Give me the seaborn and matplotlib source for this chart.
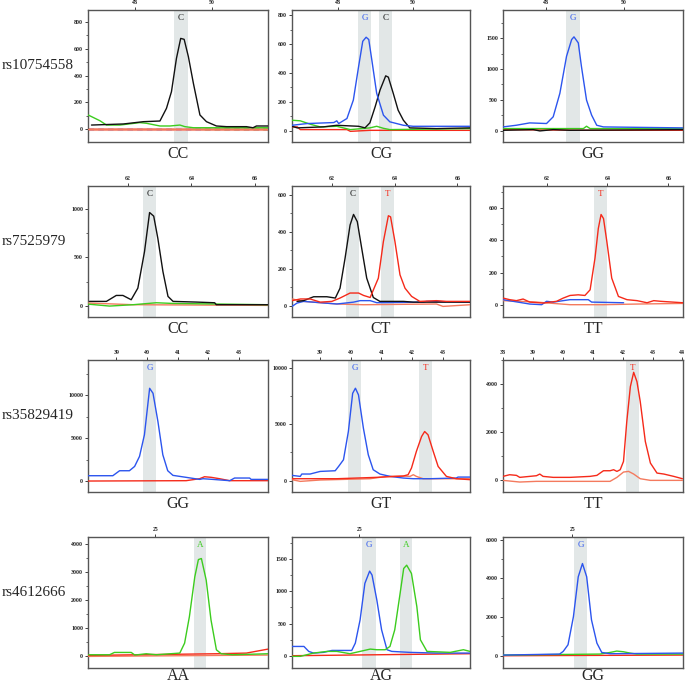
import matplotlib
matplotlib.use("Agg")
import matplotlib.pyplot as plt
from matplotlib.ticker import AutoMinorLocator
import seaborn as sns

sns.set_theme(style="white")
plt.rcParams["font.family"] = ["Liberation Serif", "DejaVu Serif"]

# ---- data (x = base position, y = signal) ----
snps = ["rs10754558", "rs7525979", "rs35829419", "rs4612666"]
genotypes = [["CC", "CG", "GG"], ["CC", "CT", "TT"], ["GG", "GT", "TT"], ["AA", "AG", "GG"]]

# row 1 : rs10754558
p11_C_x = [46.87, 47.70, 48.22, 48.65, 48.82, 48.95, 49.08, 49.19, 49.28, 49.39, 49.52, 49.69, 49.86, 50.12, 50.38, 50.90, 51.07, 51.16, 51.46]
p11_C_y = [32, 40, 57, 62, 156, 280, 528, 676, 669, 540, 342, 107, 57, 25, 20, 20, 12, 25, 25]
p11_A_x = [46.79, 47.09, 47.26, 47.61, 48.13, 48.30, 48.65, 48.91, 49.17, 49.30, 49.52, 51.46]
p11_A_y = [106, 64, 32, 32, 50, 45, 25, 25, 32, 20, 12, 12]
p11_T_x = [46.78, 51.46]
p11_T_y = [2, 2]

p12_G_x = [46.78, 47.18, 47.89, 47.97, 48.02, 48.24, 48.41, 48.55, 48.66, 48.75, 48.82, 48.90, 49.03, 49.21, 49.38, 49.74, 50.00, 51.51]
p12_G_y = [37, 49, 56, 68, 49, 84, 212, 445, 620, 648, 632, 492, 259, 107, 61, 37, 30, 30]
p12_C_x = [46.78, 46.92, 47.62, 47.97, 48.55, 48.72, 48.85, 48.99, 49.12, 49.27, 49.34, 49.47, 49.60, 49.74, 49.91, 50.62, 51.51]
p12_C_y = [30, 19, 26, 37, 30, 19, 54, 166, 282, 380, 371, 259, 142, 72, 19, 14, 19]
p12_A_x = [46.78, 47.00, 47.27, 47.53, 47.97, 48.33, 48.85, 49.03, 49.21, 49.38, 51.51]
p12_A_y = [72, 68, 44, 26, 30, 7, 19, 30, 16, 7, 14]
p12_T_x = [46.78, 46.92, 47.00, 48.24, 48.33, 48.85, 51.51]
p12_T_y = [26, 26, 7, 7, -5, 2, 2]

p13_G_x = [46.91, 47.25, 47.59, 48.02, 48.19, 48.36, 48.53, 48.66, 48.72, 48.83, 48.91, 49.04, 49.17, 49.30, 49.47, 51.50]
p13_G_y = [60, 87, 125, 115, 224, 605, 1206, 1478, 1522, 1424, 1042, 496, 251, 87, 60, 44]
p13_C_x = [46.91, 47.68, 47.85, 48.19, 48.62, 51.50]
p13_C_y = [5, 16, -5, 16, 5, 16]
p13_A_x = [46.91, 47.76, 48.96, 49.04, 49.13, 51.50]
p13_A_y = [33, 33, 33, 71, 33, 33]
p13_T_x = [46.91, 49.04, 51.50]
p13_T_y = [16, 5, 5]

# row 2 : rs7525979
p21_C_x = [60.79, 61.32, 61.63, 61.84, 62.10, 62.31, 62.52, 62.68, 62.81, 62.94, 63.10, 63.26, 63.42, 64.15, 64.73, 64.78, 66.41]
p21_C_y = [48, 48, 109, 109, 65, 184, 558, 959, 922, 694, 354, 99, 48, 41, 34, 14, 14]
p21_A_x = [60.74, 61.42, 62.16, 62.89, 63.42, 66.41]
p21_A_y = [20, 0, 14, 34, 27, 14]
p21_T_x = [60.74, 62.16, 66.41]
p21_T_y = [31, 14, 7]

p22_C_x = [60.89, 61.10, 61.42, 61.84, 62.11, 62.26, 62.42, 62.58, 62.69, 62.81, 62.95, 63.11, 63.32, 63.53, 64.28, 64.59, 66.40]
p22_C_y = [25, 29, 50, 50, 43, 96, 257, 436, 493, 454, 311, 150, 46, 25, 25, 21, 21]
p22_T_x = [60.73, 61.00, 61.31, 61.63, 62.00, 62.26, 62.58, 62.85, 63.01, 63.22, 63.48, 63.64, 63.80, 63.87, 64.01, 64.17, 64.33, 64.54, 64.80, 65.33, 65.65, 66.40]
p22_T_y = [29, 38, 38, 21, 25, 43, 70, 70, 57, 46, 150, 346, 486, 480, 346, 168, 96, 52, 25, 29, 25, 25]
p22_T2_x = [60.73, 61.10, 62.16, 63.01, 65.33, 65.54, 66.40]
p22_T2_y = [38, 25, 11, 7, 11, -2, 7]
p22_G_x = [60.73, 60.89, 61.10, 62.16, 62.69, 62.90, 63.22, 63.43, 64.91, 65.02, 66.40]
p22_G_y = [-2, 16, 25, 11, 21, 29, 29, 18, 21, 25, 21]

p23_T_x = [60.57, 60.79, 61.01, 61.23, 61.45, 61.89, 62.33, 62.55, 62.77, 63.04, 63.26, 63.43, 63.59, 63.70, 63.79, 63.87, 63.98, 64.14, 64.36, 64.64, 64.97, 65.30, 65.52, 65.74, 66.48]
p23_T_y = [43, 33, 27, 37, 18, 12, 23, 43, 59, 63, 59, 94, 289, 473, 559, 534, 391, 166, 53, 33, 27, 14, 27, 23, 14]
p23_T2_x = [60.57, 61.67, 62.77, 63.87, 64.97, 66.48]
p23_T2_y = [27, 18, 2, 2, 6, 10]
p23_G_x = [60.57, 61.45, 61.84, 62.00, 62.22, 62.55, 62.77, 63.10, 63.37, 63.48, 64.53]
p23_G_y = [33, 6, 2, 23, 18, 27, 33, 33, 33, 18, 14]

# row 3 : rs35829419
p31_G_x = [38.08, 38.89, 39.11, 39.43, 39.60, 39.76, 39.92, 40.09, 40.20, 40.36, 40.52, 40.68, 40.85, 41.28, 41.72, 41.83, 42.15, 42.70, 42.86, 43.35, 43.40, 43.95]
p31_G_y = [620, 620, 1200, 1200, 1700, 2870, 5390, 10810, 10230, 6940, 3060, 1200, 660, 430, 190, 270, 190, 40, 350, 350, 190, 190]
p31_T_x = [38.08, 41.28, 41.72, 41.88, 42.10, 42.37, 42.70, 43.95]
p31_T_y = [0, 40, 270, 500, 430, 270, 40, 40]

p32_G_x = [38.08, 38.35, 38.40, 38.67, 39.00, 39.49, 39.60, 39.76, 39.92, 40.06, 40.15, 40.25, 40.41, 40.57, 40.73, 40.95, 41.28, 41.71, 42.04, 42.58, 43.44, 43.50, 43.89]
p32_G_y = [470, 380, 590, 590, 820, 880, 1260, 1850, 4350, 7730, 8180, 7590, 4650, 2290, 970, 590, 380, 235, 175, 175, 235, 320, 320]
p32_T_x = [38.08, 39.54, 40.84, 41.71, 41.87, 41.98, 42.14, 42.31, 42.41, 42.52, 42.69, 42.85, 43.12, 43.44, 43.89]
p32_T_y = [175, 175, 295, 410, 530, 1120, 2590, 3910, 4350, 4060, 2590, 1260, 380, 175, 90]
p32_T2_x = [38.08, 38.35, 39.00, 40.63, 41.17, 41.71, 41.93, 42.04, 42.14, 42.36, 43.89]
p32_T2_y = [90, -60, 60, 175, 380, 410, 380, 530, 380, 175, 175]

p33_T_x = [38.00, 38.22, 38.45, 38.56, 39.12, 39.23, 39.34, 39.68, 40.24, 40.91, 41.14, 41.36, 41.58, 41.70, 41.81, 41.92, 42.03, 42.14, 42.26, 42.37, 42.48, 42.59, 42.76, 42.93, 43.15, 43.38, 43.71, 44.00]
p33_T_y = [166, 235, 208, 125, 194, 263, 166, 125, 125, 166, 208, 401, 401, 443, 374, 443, 789, 2450, 3903, 4498, 4110, 3280, 1619, 720, 304, 263, 166, 69]
p33_T2_x = [38.00, 38.56, 39.12, 40.24, 41.58, 41.81, 42.03, 42.20, 42.37, 42.59, 42.93, 44.00]
p33_T2_y = [0, -69, -41, -41, -41, 125, 346, 374, 263, 69, 0, 0]

# row 4 : rs4612666
p41_A_x = [23.89, 24.24, 24.32, 24.60, 24.66, 24.85, 25.02, 25.41, 25.49, 25.57, 25.66, 25.72, 25.77, 25.85, 25.93, 26.02, 26.10, 26.29, 26.88]
p41_A_y = [47, 47, 130, 130, 36, 83, 47, 107, 463, 1412, 2837, 3454, 3490, 2718, 1294, 225, 83, 47, 83]
p41_T_x = [23.88, 26.02, 26.52, 26.88]
p41_T_y = [24, 83, 107, 249]
p41_T2_x = [23.88, 26.88]
p41_T2_y = [-12, 36]

p42_G_x = [23.87, 24.07, 24.15, 24.23, 24.40, 24.54, 24.87, 24.93, 25.01, 25.09, 25.17, 25.21, 25.29, 25.37, 25.46, 25.54, 25.84, 26.29, 26.85]
p42_G_y = [144, 144, 67, 41, 52, 82, 82, 196, 557, 1124, 1315, 1253, 866, 402, 93, 67, 52, 41, 41]
p42_A_x = [23.87, 24.01, 24.23, 24.46, 24.62, 24.84, 25.01, 25.18, 25.29, 25.43, 25.51, 25.59, 25.68, 25.74, 25.79, 25.87, 25.96, 26.02, 26.13, 26.52, 26.74, 26.85]
p42_A_y = [-10, -10, 41, 67, 67, 31, 67, 103, 93, 93, 144, 402, 969, 1356, 1407, 1278, 763, 247, 67, 52, 93, 67]
p42_T_x = [23.87, 26.85]
p42_T_y = [0, 31]

p43_G_x = [23.85, 24.79, 24.85, 24.93, 25.02, 25.10, 25.17, 25.24, 25.32, 25.41, 25.49, 25.63, 26.84]
p43_G_y = [34, 86, 223, 566, 2023, 4080, 4765, 4080, 1851, 651, 171, 103, 137]
p43_A_x = [23.85, 25.46, 25.63, 25.74, 25.85, 25.96, 26.07, 26.84]
p43_A_y = [34, 86, 171, 240, 206, 137, 86, 86]
p43_T_x = [23.85, 26.84]
p43_T_y = [0, 34]

# called bases: (position start, position end, base)
calls = {
    (0, 0): [(49.01, 49.38, "C")],
    (0, 1): [(48.54, 48.88, "G"), (49.08, 49.43, "C")],
    (0, 2): [(48.51, 48.87, "G")],
    (1, 0): [(62.47, 62.89, "C")],
    (1, 1): [(62.44, 62.87, "C"), (63.57, 63.99, "T")],
    (1, 2): [(63.57, 64.00, "T")],
    (2, 0): [(39.87, 40.30, "G")],
    (2, 1): [(39.91, 40.34, "G"), (42.21, 42.64, "T")],
    (2, 2): [(42.11, 42.56, "T")],
    (3, 0): [(25.64, 25.85, "A")],
    (3, 1): [(25.04, 25.27, "G"), (25.67, 25.88, "A")],
    (3, 2): [(25.03, 25.25, "G")],
}

# axis limits and ticks per panel
xlims = {
    (0, 0): (46.78, 51.46), (0, 1): (46.78, 51.51), (0, 2): (46.91, 51.50),
    (1, 0): (60.74, 66.41), (1, 1): (60.73, 66.40), (1, 2): (60.57, 66.48),
    (2, 0): (38.08, 43.95), (2, 1): (38.08, 43.89), (2, 2): (38.00, 44.02),
    (3, 0): (23.88, 26.88), (3, 1): (23.87, 26.85), (3, 2): (23.85, 26.84),
}
ylims = {
    (0, 0): (-94, 887), (0, 1): (-79, 837), (0, 2): (-185, 1958),
    (1, 0): (-112, 1231), (1, 1): (-59, 646), (1, 2): (-74, 735),
    (2, 0): (-1279, 14109), (2, 1): (-1000, 10676), (2, 2): (-484, 5010),
    (3, 0): (-427, 4261), (3, 1): (-191, 1845), (3, 2): (-634, 6136),
}
xticks = {0: [48, 50], 1: [62, 64, 66], 2: [39, 40, 41, 42, 43], 3: [25]}
xticks_33 = [38, 39, 40, 41, 42, 43, 44]
yticks = {
    (0, 0): [0, 200, 400, 600, 800], (0, 1): [0, 200, 400, 600, 800], (0, 2): [0, 500, 1000, 1500],
    (1, 0): [0, 500, 1000], (1, 1): [0, 200, 400, 600], (1, 2): [0, 200, 400, 600],
    (2, 0): [0, 5000, 10000], (2, 1): [0, 5000, 10000], (2, 2): [0, 2000, 4000],
    (3, 0): [0, 1000, 2000, 3000, 4000], (3, 1): [0, 500, 1000, 1500], (3, 2): [0, 2000, 4000, 6000],
}

base_colors = {"A": "#3ccc1e", "C": "#111111", "G": "#2c55ee", "T": "#f52a1a", "T2": "#f47a5e"}
traces = {
    (0, 0): [("T2", p11_T_x, p11_T_y), ("A", p11_A_x, p11_A_y), ("C", p11_C_x, p11_C_y)],
    (0, 1): [("T", p12_T_x, p12_T_y), ("A", p12_A_x, p12_A_y), ("C", p12_C_x, p12_C_y), ("G", p12_G_x, p12_G_y)],
    (0, 2): [("T", p13_T_x, p13_T_y), ("A", p13_A_x, p13_A_y), ("C", p13_C_x, p13_C_y), ("G", p13_G_x, p13_G_y)],
    (1, 0): [("T2", p21_T_x, p21_T_y), ("A", p21_A_x, p21_A_y), ("C", p21_C_x, p21_C_y)],
    (1, 1): [("T2", p22_T2_x, p22_T2_y), ("G", p22_G_x, p22_G_y), ("C", p22_C_x, p22_C_y), ("T", p22_T_x, p22_T_y)],
    (1, 2): [("T2", p23_T2_x, p23_T2_y), ("G", p23_G_x, p23_G_y), ("T", p23_T_x, p23_T_y)],
    (2, 0): [("T", p31_T_x, p31_T_y), ("G", p31_G_x, p31_G_y)],
    (2, 1): [("T2", p32_T2_x, p32_T2_y), ("G", p32_G_x, p32_G_y), ("T", p32_T_x, p32_T_y)],
    (2, 2): [("T2", p33_T2_x, p33_T2_y), ("T", p33_T_x, p33_T_y)],
    (3, 0): [("T2", p41_T2_x, p41_T2_y), ("T", p41_T_x, p41_T_y), ("A", p41_A_x, p41_A_y)],
    (3, 1): [("T", p42_T_x, p42_T_y), ("G", p42_G_x, p42_G_y), ("A", p42_A_x, p42_A_y)],
    (3, 2): [("T", p43_T_x, p43_T_y), ("A", p43_A_x, p43_A_y), ("G", p43_G_x, p43_G_y)],
}

# panel placement in pixels (left, right) / (top, bottom)
W, H = 685, 686
col_px = [(88, 268), (292, 470), (503, 683)]
row_px = [(10, 142), (186, 317), (360, 492), (537, 668)]

fig = plt.figure(figsize=(W / 100, H / 100), dpi=100)

for r in range(4):
    top, bot = row_px[r]
    for c in range(3):
        left, right = col_px[c]
        ax = fig.add_axes([left / W, 1 - bot / H, (right - left) / W, (bot - top) / H])
        key = (r, c)
        x0, x1 = xlims[key]
        y0, y1 = ylims[key]
        for s, e, b in calls[key]:
            ax.axvspan(s, e, color="#e2e7e7", lw=0, zorder=0)
            ax.text((s + e) / 2, y1 - (y1 - y0) * 0.06, b, color=base_colors[b],
                    ha="center", va="center", fontsize=6.5, zorder=1)
        if key == (0, 0):
            ax.axhline(0, color="#f4a090", lw=2.2, zorder=1)
            ax.axhline(3, color="#7a3a9a", lw=1.0, ls=(0, (4, 3)), zorder=2)
            ax.plot([49.8, x1], [6, 6], color="#d88a10", lw=1.0, ls=(0, (4, 3)), zorder=2)
        for b, xs, ys in traces[key]:
            sns.lineplot(x=xs, y=ys, ax=ax, color=base_colors[b], lw=1.0,
                         estimator=None, sort=False, zorder=3)
        ax.set_xlim(x0, x1)
        ax.set_ylim(y0, y1)
        ax.xaxis.tick_top()
        ax.set_xticks(xticks_33 if key == (2, 2) else xticks[r])
        ax.set_yticks(yticks[key])
        ax.yaxis.set_minor_locator(AutoMinorLocator(2))
        ax.tick_params(axis="both", which="major", direction="out", length=2, width=0.6,
                       labelsize=4.2, pad=1.5, colors="#222222")
        ax.tick_params(axis="y", which="minor", direction="out", length=1.2, width=0.5, left=True)
        ax.tick_params(axis="x", top=True, bottom=False)
        ax.tick_params(axis="y", left=True)
        for lab in ax.get_xticklabels() + ax.get_yticklabels():
            lab.set_fontweight("bold")
        for sp in ax.spines.values():
            sp.set_color("#555555")
            sp.set_linewidth(1.0)
        ax.set_xlabel("")
        ax.set_ylabel("")
        gap = 8 if r == 3 else 12
        fig.text(((left + right) / 2) / W, 1 - (bot + gap) / H, genotypes[r][c],
                 ha="center", va="center", fontsize=11.5)
    fig.text(2 / W, 1 - (top + (bot - top) * 0.42) / H, snps[r],
             ha="left", va="center", fontsize=11)

fig.savefig("out.png", dpi=100)
